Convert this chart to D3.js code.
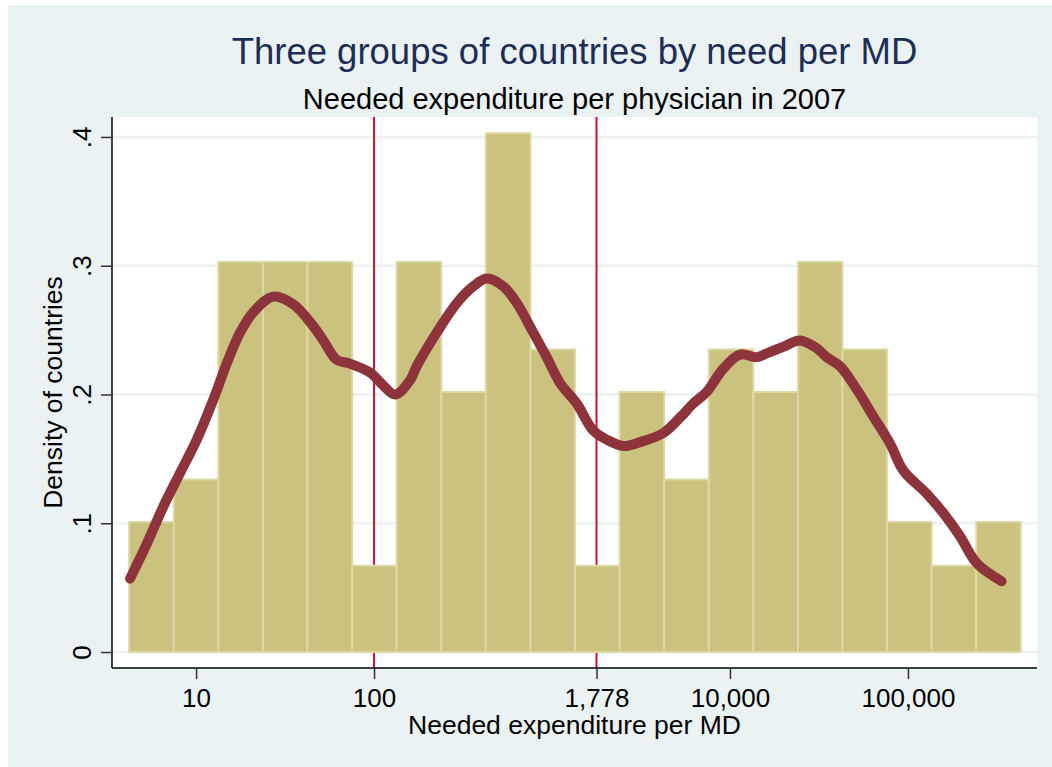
<!DOCTYPE html>
<html>
<head>
<meta charset="utf-8">
<script src="https://cdn.jsdelivr.net/npm/d3@7"></script>
<style>
  body { margin: 0; background: #ffffff; }
  text { font-family: "Liberation Sans", Arial, sans-serif; }
</style>
</head>
<body>
<div id="chart"></div>
<script>
// histogram bins (log10 of needed expenditure per MD) and their densities
const binEdgesLog = [0.624, 0.875, 1.125, 1.376, 1.626, 1.877, 2.127, 2.378, 2.628, 2.879,
    3.129, 3.380, 3.630, 3.881, 4.131, 4.382, 4.632, 4.883, 5.133, 5.384, 5.634];
const binDensity = [0.101, 0.134, 0.303, 0.303, 0.303, 0.067, 0.303, 0.202, 0.403, 0.235,
    0.067, 0.202, 0.134, 0.235, 0.202, 0.303, 0.235, 0.101, 0.067, 0.101];

// kernel density line (log10 x, density)
const kdeLogX = [0.629, 0.723, 0.816, 0.910, 1.004, 1.097, 1.172, 1.247, 1.322, 1.434,
    1.547, 1.659, 1.715, 1.790, 1.865, 1.978, 2.052, 2.118, 2.202, 2.240,
    2.352, 2.465, 2.558, 2.633, 2.726, 2.802, 2.895, 2.970, 3.045, 3.139,
    3.232, 3.307, 3.401, 3.494, 3.625, 3.719, 3.794, 3.869, 3.962, 4.056,
    4.150, 4.206, 4.299, 4.393, 4.487, 4.543, 4.618, 4.712, 4.805, 4.899,
    4.974, 5.105, 5.198, 5.292, 5.386, 5.526];
const kdeY = [0.057, 0.084, 0.113, 0.139, 0.165, 0.196, 0.224, 0.248, 0.264, 0.276,
    0.270, 0.253, 0.242, 0.227, 0.224, 0.217, 0.207, 0.200, 0.211, 0.222,
    0.248, 0.271, 0.284, 0.290, 0.284, 0.271, 0.248, 0.229, 0.209, 0.193,
    0.172, 0.165, 0.160, 0.163, 0.170, 0.182, 0.193, 0.202, 0.220, 0.231,
    0.229, 0.232, 0.237, 0.242, 0.236, 0.229, 0.222, 0.204, 0.183, 0.162,
    0.141, 0.123, 0.108, 0.090, 0.069, 0.055];

// cut-offs between the three groups
const cutoffs = [100, 1778];

const xTicks = [10, 100, 1778, 10000, 100000];
const yTicks = [0, 0.1, 0.2, 0.3, 0.4];
const yTickLabels = ["0", ".1", ".2", ".3", ".4"];

const width = 1052;
const height = 767;
const margin = { top: 117, right: 15, bottom: 99, left: 112 };
const innerWidth = width - margin.left - margin.right;
const innerHeight = height - margin.top - margin.bottom;

const svg = d3.select("#chart")
    .append("svg")
    .attr("width", width)
    .attr("height", height);

// outer background
svg.append("rect")
    .attr("x", 8).attr("y", 5)
    .attr("width", width - 8).attr("height", height - 5)
    .attr("fill", "#eaf2f3");

const inner = svg.append("g")
    .attr("transform", `translate(${margin.left}, ${margin.top})`);

inner.append("rect")
    .attr("width", innerWidth)
    .attr("height", innerHeight)
    .attr("fill", "#ffffff");

const xScale = d3.scaleLog()
    .domain([3.37, 531000])
    .range([0, innerWidth]);

const yScale = d3.scaleLinear()
    .domain([-0.0124, 0.4155])
    .range([innerHeight, 0]);

const xl = v => xScale(Math.pow(10, v));

// grid
inner.selectAll(".grid")
    .data(yTicks)
    .join("line")
    .attr("class", "grid")
    .attr("x1", 0).attr("x2", innerWidth)
    .attr("y1", d => yScale(d)).attr("y2", d => yScale(d))
    .attr("stroke", "#eaf2f3")
    .attr("stroke-width", 2.5);

// red cut-off lines (behind the bars)
inner.selectAll(".cut")
    .data(cutoffs)
    .join("line")
    .attr("class", "cut")
    .attr("x1", d => xScale(d)).attr("x2", d => xScale(d))
    .attr("y1", 0).attr("y2", innerHeight)
    .attr("stroke", "#cc1034")
    .attr("stroke-width", 2);

// bars
inner.selectAll(".bar")
    .data(binDensity)
    .join("rect")
    .attr("class", "bar")
    .attr("x", (d, i) => xl(binEdgesLog[i]))
    .attr("width", (d, i) => xl(binEdgesLog[i + 1]) - xl(binEdgesLog[i]))
    .attr("y", d => yScale(d))
    .attr("height", d => yScale(0) - yScale(d))
    .attr("fill", "#cac27e")
    .attr("stroke", "#ddd9a5")
    .attr("stroke-width", 2);

// density curve
const kde = kdeLogX.map((v, i) => [v, kdeY[i]]);
const line = d3.line()
    .x(d => xl(d[0]))
    .y(d => yScale(d[1]))
    .curve(d3.curveCatmullRom);

inner.append("path")
    .attr("d", line(kde))
    .attr("fill", "none")
    .attr("stroke", "#8c333b")
    .attr("stroke-width", 10)
    .attr("stroke-linecap", "round")
    .attr("stroke-linejoin", "round");

// axes
const xAxis = d3.axisBottom(xScale)
    .tickValues(xTicks)
    .tickSize(11)
    .tickPadding(10)
    .tickFormat(d3.format(","));

const gx = inner.append("g")
    .attr("transform", `translate(0, ${innerHeight})`)
    .call(xAxis);
gx.select(".domain").attr("stroke", "#000").attr("stroke-width", 1.5).attr("d", `M0,0H${innerWidth}`);
gx.selectAll(".tick line").attr("stroke", "#333").attr("stroke-width", 1.5);
gx.selectAll(".tick text")
    .attr("font-size", 26)
    .attr("fill", "#000")
    .attr("font-family", "Liberation Sans, Arial, sans-serif");

const yAxis = d3.axisLeft(yScale)
    .tickValues(yTicks)
    .tickSize(11)
    .tickFormat((d, i) => yTickLabels[i]);

const gy = inner.append("g").call(yAxis);
gy.select(".domain").attr("stroke", "#000").attr("stroke-width", 1.5).attr("d", `M0,0V${innerHeight}`);
gy.selectAll(".tick line").attr("stroke", "#333").attr("stroke-width", 1.5);
gy.selectAll(".tick text")
    .attr("font-size", 26)
    .attr("fill", "#000")
    .attr("font-family", "Liberation Sans, Arial, sans-serif")
    .attr("x", null).attr("dy", null)
    .attr("text-anchor", "middle")
    .attr("transform", "translate(-21, 0) rotate(-90)");

// titles
svg.append("text")
    .attr("x", margin.left + innerWidth / 2)
    .attr("y", 64)
    .attr("text-anchor", "middle")
    .attr("font-size", 36.5)
    .attr("fill", "#1e2d55")
    .text("Three groups of countries by need per MD");

svg.append("text")
    .attr("x", margin.left + innerWidth / 2)
    .attr("y", 109)
    .attr("text-anchor", "middle")
    .attr("font-size", 29)
    .attr("fill", "#000")
    .text("Needed expenditure per physician in 2007");

svg.append("text")
    .attr("x", margin.left + innerWidth / 2)
    .attr("y", 734)
    .attr("text-anchor", "middle")
    .attr("font-size", 26.5)
    .attr("fill", "#000")
    .text("Needed expenditure per MD");

svg.append("text")
    .attr("transform", `translate(62, ${margin.top + innerHeight / 2}) rotate(-90)`)
    .attr("text-anchor", "middle")
    .attr("font-size", 26.5)
    .attr("fill", "#000")
    .text("Density of countries");
</script>
</body>
</html>
